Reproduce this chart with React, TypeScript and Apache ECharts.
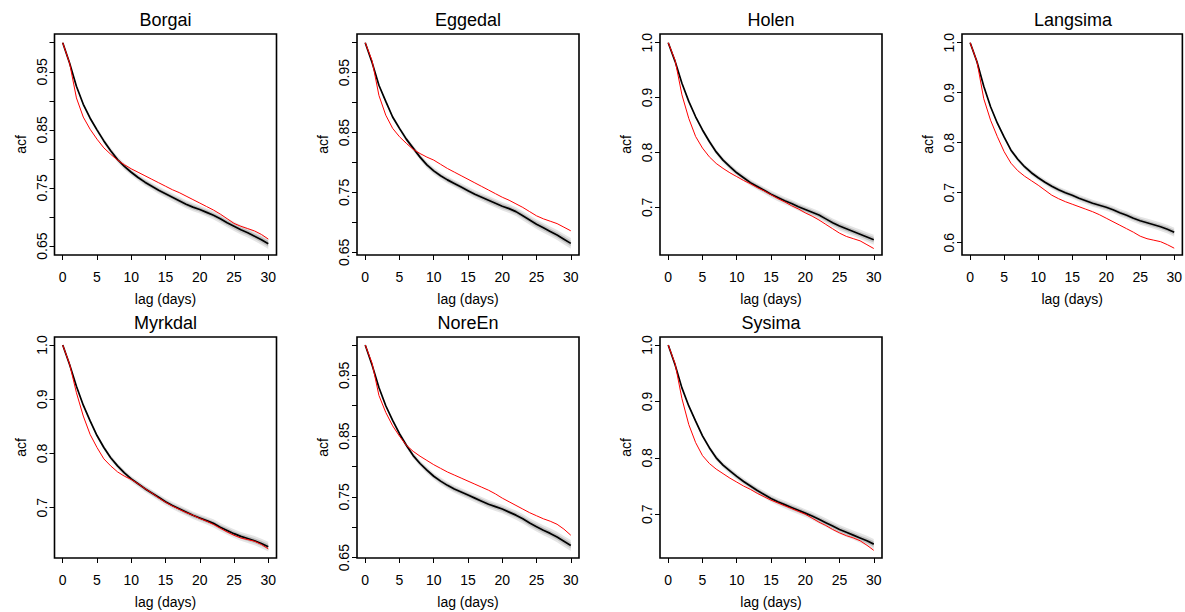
import React, { useEffect, useRef } from "react";
import * as echarts from "echarts";

// ---- data ----
const LAGS = [0, 1, 2, 3, 4, 5, 6, 7, 8, 9, 10, 11, 12, 13, 14, 15, 16, 17, 18, 19, 20, 21, 22, 23, 24, 25, 26, 27, 28, 29, 30];

const SITES = ["Borgai", "Eggedal", "Holen", "Langsima", "Myrkdal", "NoreEn", "Sysima"];

// observed acf (red)
const OBS_BORGAI = [1.0, 0.965, 0.905, 0.872, 0.851, 0.834, 0.819, 0.808, 0.798, 0.790, 0.783, 0.777, 0.771, 0.765, 0.759, 0.753, 0.747, 0.742, 0.736, 0.730, 0.724, 0.718, 0.712, 0.705, 0.697, 0.689, 0.684, 0.680, 0.676, 0.670, 0.662];
const OBS_EGGEDAL = [1.0, 0.970, 0.912, 0.879, 0.857, 0.843, 0.832, 0.822, 0.815, 0.809, 0.804, 0.797, 0.790, 0.784, 0.778, 0.772, 0.766, 0.760, 0.754, 0.748, 0.742, 0.737, 0.731, 0.725, 0.718, 0.711, 0.706, 0.702, 0.698, 0.692, 0.686];
const OBS_HOLEN = [1.0, 0.968, 0.905, 0.862, 0.829, 0.808, 0.792, 0.780, 0.771, 0.763, 0.756, 0.749, 0.743, 0.736, 0.730, 0.723, 0.716, 0.710, 0.703, 0.697, 0.690, 0.684, 0.677, 0.669, 0.661, 0.653, 0.647, 0.643, 0.639, 0.632, 0.625];
const OBS_LANGSIMA = [1.0, 0.962, 0.888, 0.845, 0.812, 0.782, 0.759, 0.744, 0.733, 0.724, 0.715, 0.705, 0.695, 0.688, 0.682, 0.677, 0.672, 0.667, 0.662, 0.656, 0.649, 0.642, 0.635, 0.628, 0.621, 0.613, 0.608, 0.605, 0.602, 0.596, 0.589];
const OBS_MYRKDAL = [1.0, 0.965, 0.912, 0.869, 0.835, 0.811, 0.790, 0.777, 0.766, 0.758, 0.752, 0.744, 0.735, 0.727, 0.718, 0.710, 0.703, 0.697, 0.691, 0.686, 0.680, 0.675, 0.669, 0.662, 0.655, 0.649, 0.644, 0.641, 0.638, 0.632, 0.624];
const OBS_NOREEN = [1.0, 0.970, 0.917, 0.889, 0.867, 0.850, 0.835, 0.825, 0.817, 0.810, 0.803, 0.797, 0.791, 0.786, 0.781, 0.776, 0.771, 0.766, 0.761, 0.755, 0.748, 0.742, 0.736, 0.730, 0.724, 0.719, 0.714, 0.710, 0.705, 0.697, 0.687];
const OBS_SYSIMA = [1.0, 0.967, 0.905, 0.859, 0.827, 0.804, 0.790, 0.780, 0.772, 0.764, 0.757, 0.750, 0.744, 0.737, 0.731, 0.725, 0.720, 0.715, 0.710, 0.705, 0.700, 0.693, 0.686, 0.680, 0.673, 0.667, 0.662, 0.658, 0.653, 0.645, 0.636];

// simulated acf median (black)
const SIM_BORGAI = [1.0, 0.965, 0.925, 0.894, 0.870, 0.850, 0.831, 0.814, 0.799, 0.787, 0.777, 0.768, 0.760, 0.753, 0.746, 0.740, 0.734, 0.728, 0.722, 0.717, 0.713, 0.708, 0.703, 0.697, 0.690, 0.684, 0.678, 0.673, 0.667, 0.661, 0.654];
const SIM_EGGEDAL = [1.0, 0.967, 0.929, 0.902, 0.876, 0.857, 0.839, 0.824, 0.809, 0.796, 0.786, 0.778, 0.771, 0.765, 0.759, 0.753, 0.747, 0.742, 0.737, 0.732, 0.727, 0.723, 0.718, 0.711, 0.704, 0.697, 0.691, 0.685, 0.679, 0.672, 0.665];
const SIM_HOLEN = [1.0, 0.966, 0.926, 0.893, 0.865, 0.841, 0.820, 0.801, 0.786, 0.774, 0.763, 0.754, 0.745, 0.738, 0.731, 0.724, 0.718, 0.712, 0.707, 0.701, 0.696, 0.691, 0.686, 0.679, 0.672, 0.666, 0.661, 0.656, 0.651, 0.646, 0.641];
const SIM_LANGSIMA = [1.0, 0.962, 0.913, 0.872, 0.839, 0.811, 0.785, 0.767, 0.752, 0.740, 0.730, 0.721, 0.713, 0.706, 0.700, 0.695, 0.689, 0.684, 0.679, 0.675, 0.671, 0.666, 0.660, 0.655, 0.649, 0.644, 0.640, 0.636, 0.632, 0.627, 0.621];
const SIM_MYRKDAL = [1.0, 0.964, 0.924, 0.889, 0.860, 0.833, 0.811, 0.792, 0.777, 0.764, 0.753, 0.744, 0.735, 0.727, 0.719, 0.711, 0.704, 0.698, 0.692, 0.686, 0.681, 0.676, 0.671, 0.664, 0.658, 0.652, 0.647, 0.643, 0.639, 0.634, 0.628];
const SIM_NOREEN = [1.0, 0.967, 0.930, 0.900, 0.876, 0.854, 0.835, 0.818, 0.805, 0.794, 0.784, 0.776, 0.769, 0.763, 0.758, 0.753, 0.748, 0.743, 0.738, 0.734, 0.730, 0.725, 0.720, 0.714, 0.707, 0.701, 0.695, 0.690, 0.684, 0.677, 0.670];
const SIM_SYSIMA = [1.0, 0.965, 0.924, 0.892, 0.865, 0.839, 0.818, 0.800, 0.787, 0.777, 0.767, 0.758, 0.750, 0.742, 0.735, 0.728, 0.722, 0.717, 0.712, 0.707, 0.702, 0.697, 0.691, 0.685, 0.679, 0.673, 0.668, 0.663, 0.658, 0.653, 0.647];

// half-width of the grey simulation envelope
const RIBBON_OUTER = [0, 0.001, 0.002, 0.003, 0.0035, 0.004, 0.0045, 0.005, 0.005, 0.0055, 0.0055, 0.0058, 0.006, 0.006, 0.0063, 0.0065, 0.0067, 0.0068, 0.007, 0.007, 0.007, 0.0072, 0.0075, 0.0077, 0.0078, 0.008, 0.0082, 0.0083, 0.0085, 0.0088, 0.009];
const RIBBON_INNER = [0, 0.0005, 0.001, 0.0015, 0.002, 0.002, 0.0025, 0.0025, 0.003, 0.003, 0.003, 0.003, 0.0035, 0.0035, 0.0035, 0.0035, 0.0035, 0.0038, 0.004, 0.004, 0.004, 0.004, 0.004, 0.0042, 0.0043, 0.0045, 0.0045, 0.0045, 0.0045, 0.0048, 0.005];

// tick values
const X_TICKS = [0, 5, 10, 15, 20, 25, 30];
const Y_TICKS_005 = [0.65, 0.7, 0.75, 0.8, 0.85, 0.9, 0.95, 1.0];
const Y_LABELS_005 = [0.65, 0.75, 0.85, 0.95];
const Y_TICKS_01 = [0.7, 0.8, 0.9, 1.0];
const Y_TICKS_01_LANGSIMA = [0.6, 0.7, 0.8, 0.9, 1.0];

const OBS = [OBS_BORGAI, OBS_EGGEDAL, OBS_HOLEN, OBS_LANGSIMA, OBS_MYRKDAL, OBS_NOREEN, OBS_SYSIMA];
const SIM = [SIM_BORGAI, SIM_EGGEDAL, SIM_HOLEN, SIM_LANGSIMA, SIM_MYRKDAL, SIM_NOREEN, SIM_SYSIMA];
const Y_MIN = [0.6346, 0.6456, 0.6132, 0.5754, 0.6071, 0.6495, 0.6224];
const Y_MAX = [1.015, 1.0145, 1.0158, 1.0174, 1.0148, 1.0131, 1.0142];
const Y_TICKS = [Y_TICKS_005, Y_TICKS_005, Y_TICKS_01, Y_TICKS_01_LANGSIMA, Y_TICKS_01, Y_TICKS_005, Y_TICKS_01];
const Y_LABELS = [Y_LABELS_005, Y_LABELS_005, Y_TICKS_01, Y_TICKS_01_LANGSIMA, Y_TICKS_01, Y_LABELS_005, Y_TICKS_01];
const Y_DEC = [2, 2, 1, 1, 1, 2, 1];

// layout
const LEFTS = [54.5, 357, 660, 962, 54.5, 357, 660];
const TOPS = [34, 34, 34, 34, 337, 337, 337];
const PW = 222;
const PH = 221;
const FONT = "Liberation Sans, Arial, Helvetica, sans-serif";

function ribbonSeries(i: number, sim: number[], half: number[], fill: string) {
  return {
    type: "custom",
    xAxisIndex: i,
    yAxisIndex: i,
    silent: true,
    data: LAGS.map((x, k) => [x, sim[k] - half[k], sim[k] + half[k]]),
    encode: { x: 0, y: [1, 2] },
    renderItem: (params: any, api: any) => {
      if (params.dataIndex !== 0) return null;
      const upper = LAGS.map((x, k) => api.coord([x, sim[k] + half[k]]));
      const lower = LAGS.map((x, k) => api.coord([x, sim[k] - half[k]])).reverse();
      return {
        type: "polygon",
        shape: { points: upper.concat(lower) },
        style: { fill, stroke: "none" },
      };
    },
  };
}

function buildOption() {
  const grid: any[] = [];
  const xAxis: any[] = [];
  const yAxis: any[] = [];
  const series: any[] = [];
  const graphic: any[] = [];

  SITES.forEach((name, i) => {
    grid.push({
      left: LEFTS[i],
      top: TOPS[i],
      width: PW,
      height: PH,
      show: true,
      borderColor: "#000",
      borderWidth: 1.6,
      backgroundColor: "transparent",
    });
    xAxis.push({
      gridIndex: i,
      type: "value",
      min: -1.2,
      max: 31.2,
      name: "lag (days)",
      nameLocation: "middle",
      nameGap: 37,
      nameTextStyle: { fontSize: 14, color: "#000", fontFamily: FONT },
      axisLine: { show: false, onZero: false },
      axisTick: { show: true, inside: false, length: 5, lineStyle: { color: "#000", width: 1 }, customValues: X_TICKS },
      axisLabel: { customValues: X_TICKS, margin: 15, fontSize: 14, color: "#000", fontFamily: FONT },
      splitLine: { show: false },
    });
    const dec = Y_DEC[i];
    yAxis.push({
      gridIndex: i,
      type: "value",
      min: Y_MIN[i],
      max: Y_MAX[i],
      name: "acf",
      nameLocation: "middle",
      nameGap: 27,
      nameRotate: 90,
      nameTextStyle: { fontSize: 14, color: "#000", fontFamily: FONT },
      axisLine: { show: false, onZero: false },
      axisTick: { show: true, inside: false, length: 5, lineStyle: { color: "#000", width: 1 }, customValues: Y_TICKS[i] },
      axisLabel: {
        customValues: Y_LABELS[i],
        rotate: 90,
        margin: 6,
        fontSize: 14,
        color: "#000",
        fontFamily: FONT,
        formatter: (v: number) => v.toFixed(dec),
      },
      splitLine: { show: false },
    });

    const sim = SIM[i];
    const obs = OBS[i];
    series.push(ribbonSeries(i, sim, RIBBON_OUTER, "rgba(0,0,0,0.10)"));
    series.push(ribbonSeries(i, sim, RIBBON_INNER, "rgba(0,0,0,0.16)"));
    const base = { xAxisIndex: i, yAxisIndex: i, type: "line", symbol: "none", silent: true, smooth: false };
    series.push({
      ...base,
      data: LAGS.map((x, k) => [x, sim[k]]),
      lineStyle: { color: "#000", width: 1.7 },
    });
    series.push({
      ...base,
      data: LAGS.map((x, k) => [x, obs[k]]),
      lineStyle: { color: "#ff0000", width: 1 },
    });

    graphic.push({
      type: "text",
      x: LEFTS[i] + PW / 2,
      y: i < 4 ? 20 : 323,
      style: {
        text: name,
        fill: "#000",
        fontSize: 18,
        fontWeight: "normal",
        fontFamily: FONT,
        textAlign: "center",
        align: "center",
        textVerticalAlign: "middle",
        verticalAlign: "middle",
      },
    });
  });

  return {
    animation: false,
    backgroundColor: "#fff",
    textStyle: { fontFamily: FONT },
    grid,
    xAxis,
    yAxis,
    series,
    graphic,
  };
}

export default function App() {
  const ref = useRef<HTMLDivElement>(null);
  useEffect(() => {
    document.body.style.margin = "0";
    if (!ref.current) return;
    const chart = echarts.init(ref.current, null, { renderer: "svg" });
    chart.setOption(buildOption() as any);
    return () => chart.dispose();
  }, []);
  return <div ref={ref} style={{ width: 1185, height: 612 }} />;
}
